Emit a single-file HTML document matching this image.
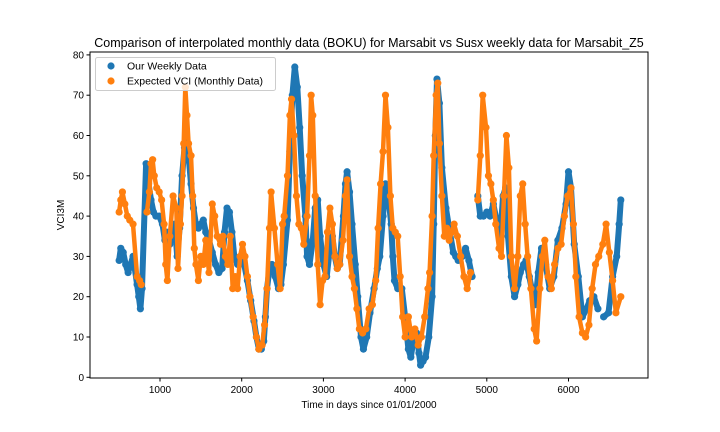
<!DOCTYPE html>
<html><head><meta charset="utf-8"><style>
body{margin:0;background:#fff;}
svg{display:block;font-family:"Liberation Sans","DejaVu Sans",sans-serif;}
</style></head><body>
<svg id="chart" width="720" height="432" viewBox="0 0 720 432" xmlns="http://www.w3.org/2000/svg">
<rect x="0" y="0" width="720" height="432" fill="#fff"/>
<text x="369" y="47" text-anchor="middle" font-size="12.5" fill="#000">Comparison of interpolated monthly data (BOKU) for Marsabit vs Susx weekly data for Marsabit_Z5</text>
<g id="marks"></g>
<rect x="90" y="52" width="558" height="326" fill="none" stroke="#000" stroke-width="1"/>
<g id="xticks"></g>
<g id="yticks"></g>
<text x="369" y="408" text-anchor="middle" font-size="10">Time in days since 01/01/2000</text>
<text transform="translate(64,215) rotate(-90)" text-anchor="middle" font-size="10">VCI3M</text>
<g>
<rect x="95.5" y="57.5" width="180" height="33" rx="2" fill="#fff" fill-opacity="0.8" stroke="#ccc"/>
<circle cx="111" cy="66" r="3.6" fill="#1f77b4"/>
<text x="127" y="69.5" font-size="10.5">Our Weekly Data</text>
<circle cx="111" cy="81" r="3.6" fill="#ff7f0e"/>
<text x="127" y="84.5" font-size="10.5">Expected VCI (Monthly Data)</text>
</g>
</svg>
<script>
const xTicks = [1000, 2000, 3000, 4000, 5000, 6000];
const yTicks = [0, 10, 20, 30, 40, 50, 60, 70, 80];
const weeklyDays = [500,520,550,580,610,640,670,720,740,760,780,830,860,890,920,950,990,1030,1060,1090,1120,1150,1180,1210,1240,1270,1300,1320,1350,1380,1410,1440,1470,1500,1530,1560,1600,1640,1680,1720,1760,1790,1820,1850,1880,1910,1950,1990,2030,2070,2110,2150,2180,2210,2240,2270,2290,2310,2340,2370,2410,2450,2480,2510,2560,2590,2620,2650,2680,2710,2740,2780,2800,2830,2870,2900,2930,2960,3000,3040,3080,3110,3140,3170,3200,3245,3270,3290,3320,3350,3390,3420,3460,3490,3530,3570,3620,3660,3690,3730,3760,3790,3830,3850,3870,3910,3960,4000,4040,4070,4100,4140,4170,4190,4220,4250,4290,4330,4350,4370,4390,4420,4450,4500,4540,4590,4620,4650,4700,4740,4780,4820,4890,4920,4960,5000,5040,5080,5130,5160,5200,5230,5260,5300,5340,5380,5410,5450,5480,5520,5550,5590,5630,5670,5720,5770,5820,5870,5920,5970,6000,6030,6070,6120,6170,6220,6260,6310,6360,6430,6490,6540,6590,6620,6640];
const weeklyVals = [29,32,31,28,26,28,30,23,20,17,22,53,48,44,41,40,40,38,34,36,33,36,38,30,37,50,57,60,55,48,42,38,37,38,39,36,34,31,28,26,27,36,42,41,36,30,28,30,28,24,19,14,10,7,7,9,15,22,27,28,25,22,23,28,39,56,70,77,72,62,50,40,30,28,34,42,44,35,28,25,32,35,30,27,28,40,48,51,46,38,28,20,10,7,10,16,22,27,30,40,48,46,38,30,24,22,22,15,7,5,9,11,6,3,4,5,10,20,38,60,74,68,52,42,37,31,30,29,30,32,29,25,45,40,40,41,40,43,38,34,45,47,35,25,20,23,26,28,29,25,22,18,26,32,28,22,25,34,37,43,51,47,33,25,15,17,19,20,17,15,16,25,30,38,44];
const monthlyDays = [500,520,540,570,600,630,670,720,750,770,840,870,890,910,930,960,990,1020,1050,1070,1090,1120,1160,1200,1220,1250,1270,1290,1310,1330,1350,1380,1400,1420,1440,1470,1500,1530,1560,1600,1640,1670,1700,1740,1770,1800,1830,1860,1890,1920,1950,1980,2010,2040,2070,2100,2140,2180,2210,2250,2280,2310,2340,2360,2400,2440,2470,2500,2520,2560,2590,2610,2640,2670,2700,2730,2760,2800,2830,2850,2870,2900,2930,2960,2990,3020,3050,3080,3110,3140,3170,3200,3240,3270,3290,3320,3350,3380,3410,3440,3480,3520,3560,3600,3640,3670,3700,3730,3760,3790,3820,3850,3880,3910,3940,3970,4000,4040,4080,4120,4160,4200,4240,4280,4300,4330,4350,4380,4400,4420,4450,4480,4510,4540,4570,4600,4640,4680,4720,4760,4800,4890,4920,4950,4990,5020,5050,5080,5110,5150,5180,5210,5240,5270,5300,5340,5380,5410,5440,5470,5500,5540,5580,5610,5650,5680,5710,5750,5790,5830,5870,5910,5950,5990,6030,6060,6090,6130,6170,6210,6250,6290,6330,6370,6420,6460,6500,6540,6580,6640];
const monthlyVals = [41,44,46,43,40,39,38,25,24,23,41,46,53,54,50,47,46,44,38,28,24,35,45,42,27,38,45,58,72,65,58,55,45,32,28,24,30,28,34,26,43,40,35,33,35,30,28,35,22,25,22,30,33,30,25,20,15,10,7,8,13,22,37,46,37,28,22,38,40,50,65,69,60,45,38,37,33,40,55,70,65,45,28,18,24,25,36,42,38,30,27,28,34,45,49,30,25,22,17,12,11,12,17,18,24,37,48,56,70,62,45,37,36,35,25,15,10,15,10,12,8,10,15,22,26,40,55,70,73,58,45,35,37,34,36,38,35,30,25,22,26,44,55,70,62,50,48,44,38,32,30,45,60,52,30,22,30,45,48,38,30,22,12,9,22,30,34,25,22,28,32,33,40,45,47,38,25,15,11,10,13,22,28,30,33,38,31,24,16,20];

const NS = 'http://www.w3.org/2000/svg';
const xScale = d => 78.3 + d * 0.0817;
const yScale = v => 377.3 - v * 4.03;
const marks = document.getElementById('marks');
function drawSeries(days, vals, color, name, sw) {
  const g = document.createElementNS(NS, 'g');
  
  
  let d = '';
  days.forEach((day, i) => {
    const x = xScale(day), y = yScale(vals[i]);
    const brk = i === 0 || day - days[i - 1] > 60;
    d += (brk ? 'M' : 'L') + x.toFixed(1) + ' ' + y.toFixed(1) + ' ';
  });
  const p = document.createElementNS(NS, 'path');
  p.setAttribute('d', d);
  p.setAttribute('fill', 'none');
  p.setAttribute('stroke', color);
  p.setAttribute('stroke-width', sw);
  p.setAttribute('stroke-linecap', 'round');
  p.setAttribute('stroke-linejoin', 'round');
  
  
  g.appendChild(p);
  days.forEach((day, i) => {
    const c = document.createElementNS(NS, 'circle');
    c.setAttribute('cx', xScale(day));
    c.setAttribute('cy', yScale(vals[i]));
    c.setAttribute('r', 3.6);
    c.setAttribute('fill', color);
    
    
    g.appendChild(c);
  });
  marks.appendChild(g);
}
drawSeries(weeklyDays, weeklyVals, '#1f77b4', 'weekly-series', 6);
drawSeries(monthlyDays, monthlyVals, '#ff7f0e', 'monthly-series', 4.5);

const xg = document.getElementById('xticks');
xTicks.forEach(t => {
  const x = xScale(t);
  const l = document.createElementNS(NS, 'line');
  l.setAttribute('x1', x); l.setAttribute('x2', x);
  l.setAttribute('y1', 378); l.setAttribute('y2', 381.5);
  l.setAttribute('stroke', '#000');
  
  
  xg.appendChild(l);
  const tx = document.createElementNS(NS, 'text');
  tx.setAttribute('x', x); tx.setAttribute('y', 393);
  tx.setAttribute('text-anchor', 'middle');
  tx.setAttribute('font-size', '10');
  
  
  tx.textContent = t;
  xg.appendChild(tx);
});
const yg = document.getElementById('yticks');
yTicks.forEach(t => {
  const y = yScale(t);
  const l = document.createElementNS(NS, 'line');
  l.setAttribute('x1', 86.5); l.setAttribute('x2', 90);
  l.setAttribute('y1', y); l.setAttribute('y2', y);
  l.setAttribute('stroke', '#000');
  
  
  yg.appendChild(l);
  const tx = document.createElementNS(NS, 'text');
  tx.setAttribute('x', 84); tx.setAttribute('y', y + 3.5);
  tx.setAttribute('text-anchor', 'end');
  tx.setAttribute('font-size', '10');
  
  
  tx.textContent = t;
  yg.appendChild(tx);
});
</script>
</body></html>
